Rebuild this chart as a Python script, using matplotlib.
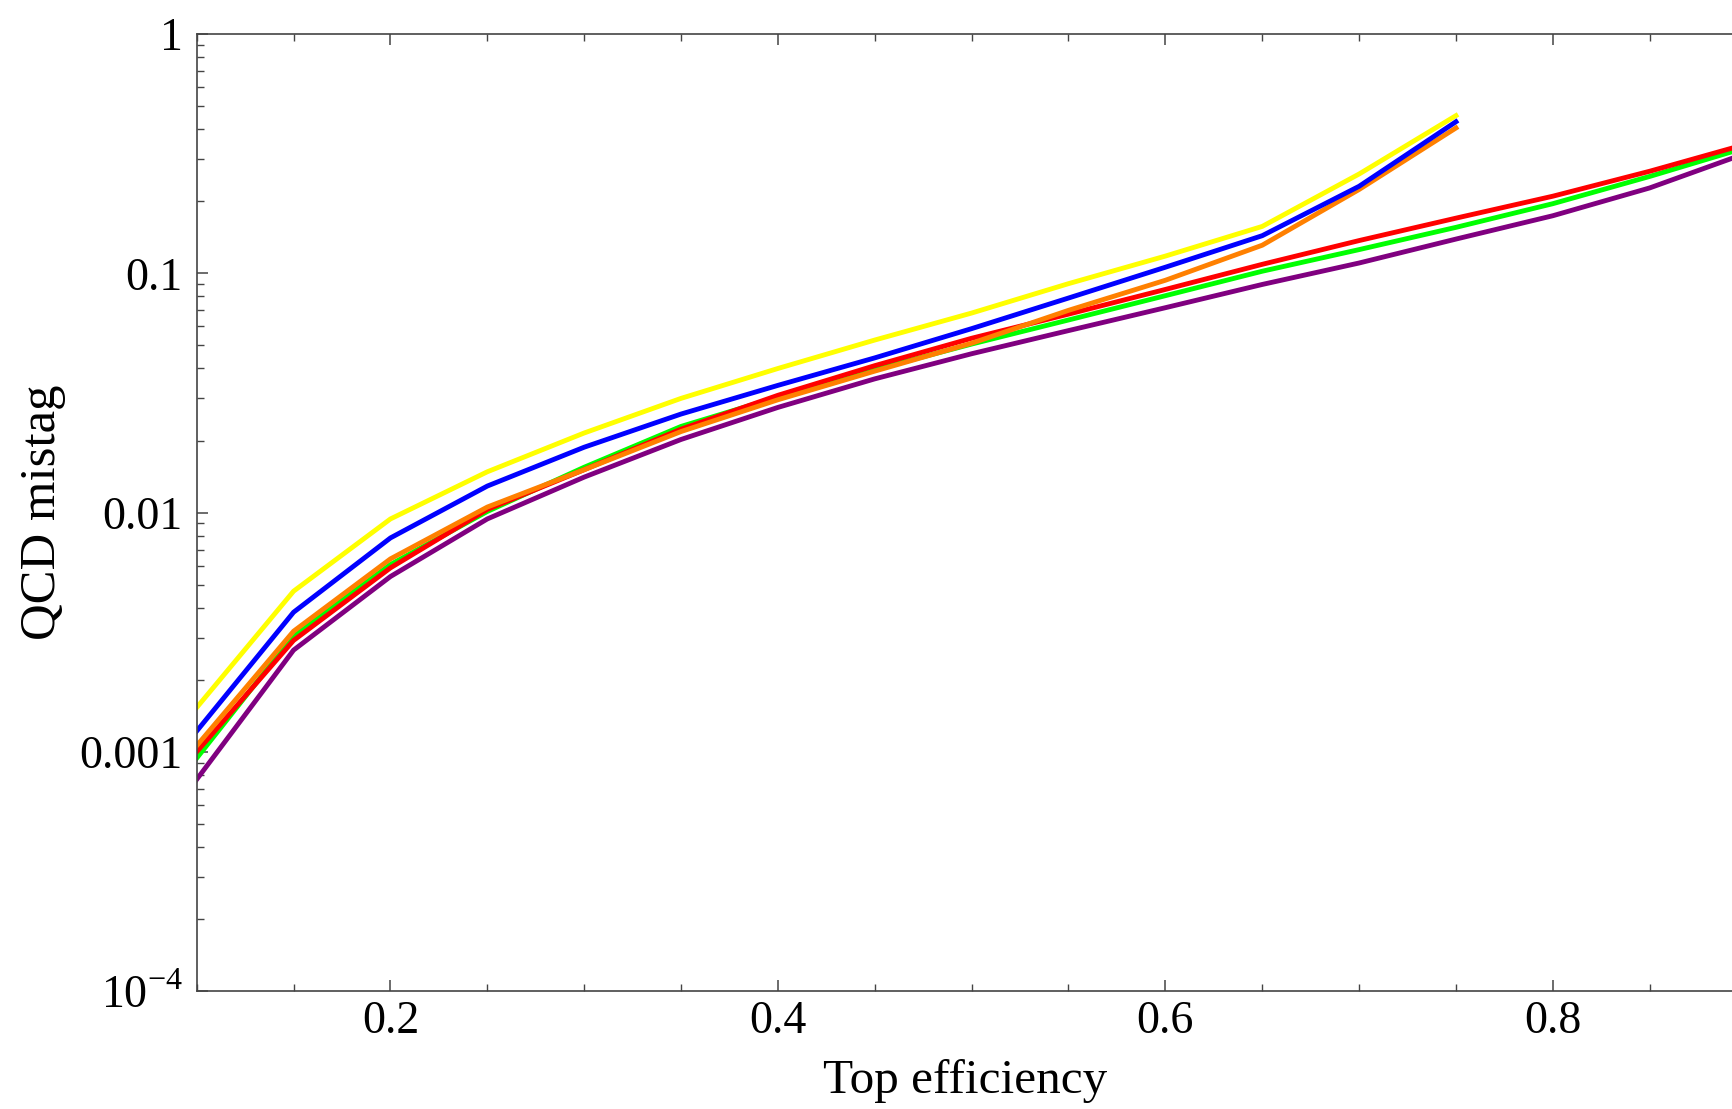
import numpy as np
import matplotlib.pyplot as plt
from matplotlib.ticker import FixedLocator, FixedFormatter, LogLocator, NullFormatter, MultipleLocator

plt.rcParams['font.family'] = ['Liberation Serif', 'DejaVu Serif']
plt.rcParams['mathtext.fontset'] = 'custom'
plt.rcParams['mathtext.rm'] = 'Liberation Serif'

# top efficiency grid points
eff_short = [0.10, 0.15, 0.20, 0.25, 0.30, 0.35, 0.40, 0.45, 0.50, 0.55, 0.60, 0.65, 0.70, 0.75]
eff_long = [0.10, 0.15, 0.20, 0.25, 0.30, 0.35, 0.40, 0.45, 0.50, 0.55, 0.60, 0.65, 0.70, 0.75, 0.80, 0.85, 0.90]

# QCD mistag rates
mistag_yellow = [0.00153, 0.00469, 0.0094, 0.0148, 0.0215, 0.0300, 0.0400, 0.0526, 0.0682, 0.0905, 0.118, 0.157, 0.260, 0.456]
mistag_blue = [0.00122, 0.00383, 0.00783, 0.0129, 0.01875, 0.0258, 0.0340, 0.0443, 0.0587, 0.0788, 0.106, 0.1436, 0.231, 0.430]
mistag_orange = [0.00106, 0.00319, 0.0064, 0.01054, 0.0151, 0.0218, 0.0296, 0.0390, 0.0510, 0.0700, 0.0935, 0.131, 0.224, 0.405]
mistag_red = [0.00100, 0.00292, 0.00587, 0.0103, 0.0151, 0.0223, 0.0309, 0.0411, 0.0535, 0.0675, 0.0856, 0.109, 0.137, 0.170, 0.210, 0.267, 0.347]
mistag_green = [0.00094, 0.00306, 0.00606, 0.0101, 0.01546, 0.0229, 0.0304, 0.0396, 0.0506, 0.0638, 0.0806, 0.102, 0.1256, 0.1556, 0.1954, 0.254, 0.336]
mistag_purple = [0.000766, 0.00266, 0.0054, 0.0094, 0.01406, 0.0202, 0.0275, 0.0362, 0.0461, 0.0576, 0.0718, 0.0898, 0.1104, 0.139, 0.174, 0.2274, 0.318]

fig = plt.figure(figsize=(17.33, 11.09), dpi=100)
ax = fig.add_axes([0.1135, 0.1064, 0.8865, 0.8629])

lw = 3.5
ax.plot(eff_long, mistag_purple, color=(0.5, 0, 0.5), lw=lw)
ax.plot(eff_long, mistag_green, color=(0, 1, 0), lw=lw)
ax.plot(eff_long, mistag_red, color=(1, 0, 0), lw=lw)
ax.plot(eff_short, mistag_orange, color=(1, 0.5, 0), lw=lw)
ax.plot(eff_short, mistag_yellow, color=(1, 1, 0), lw=lw)
ax.plot(eff_short, mistag_blue, color=(0, 0, 1), lw=lw)

ax.set_yscale('log')
ax.set_xlim(0.1, 0.893)
ax.set_ylim(1e-4, 1)

ax.xaxis.set_major_locator(FixedLocator([0.2, 0.4, 0.6, 0.8]))
ax.xaxis.set_major_formatter(FixedFormatter(['0.2', '0.4', '0.6', '0.8']))
ax.xaxis.set_minor_locator(MultipleLocator(0.05))

ax.yaxis.set_major_locator(FixedLocator([1e-4, 1e-3, 1e-2, 1e-1, 1]))
ax.yaxis.set_major_formatter(FixedFormatter([r'$10^{-4}$', '0.001', '0.01', '0.1', '1']))
ax.yaxis.set_minor_locator(LogLocator(base=10, subs=np.arange(2, 10)))
ax.yaxis.set_minor_formatter(NullFormatter())

for side in ['left', 'bottom', 'top']:
    ax.spines[side].set_color('#444444')
    ax.spines[side].set_linewidth(1.2)
ax.spines['right'].set_visible(False)

ax.tick_params(which='both', direction='in', top=True, right=False, colors='#444444',
               labelcolor='black', labelsize=33)
ax.tick_params(which='major', length=8, width=1.1)
ax.tick_params(which='minor', length=5, width=1.0)
ax.tick_params(axis='x', which='major', pad=7)
ax.tick_params(axis='y', which='major', pad=10)

ax.set_xlabel('Top efficiency', fontsize=35.5)
ax.set_ylabel('QCD mistag', fontsize=36.5)
ax.xaxis.set_label_coords(0.5, -0.071)
ax.yaxis.set_label_coords(-0.085, 0.5)

fig.savefig('out.png', dpi=100)
